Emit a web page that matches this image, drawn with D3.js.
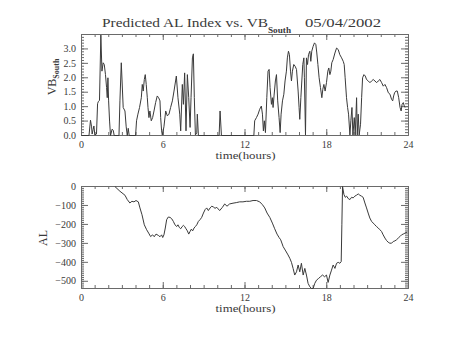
<!DOCTYPE html>
<html><head><meta charset="utf-8">
<script src="https://cdn.jsdelivr.net/npm/d3@7"></script>
<style>body{margin:0;background:#fff}svg{display:block}</style>
</head><body>
<svg id="c" width="453" height="340"></svg>
<script>
// ---- data ----
const vbHours = [0,0.55,0.66,0.74,0.78,0.85,0.91,0.98,1.10,1.18,1.23,1.32,1.42,1.50,1.59,1.67,1.76,1.84,1.89,1.94,1.99,2.06,2.13,2.25,2.33,2.40,2.75,2.82,2.92,3.06,3.19,3.28,3.36,3.43,3.50,3.97,4.04,4.14,4.26,4.39,4.46,4.53,4.61,4.68,4.75,4.83,4.88,4.95,5.02,5.12,5.22,5.32,5.44,5.56,5.66,5.76,5.81,5.88,5.93,6.05,6.18,6.30,6.42,6.54,6.67,6.79,6.96,7.08,7.21,7.28,7.40,7.48,7.57,7.67,7.77,7.87,7.97,8.04,8.14,8.21,8.28,8.36,8.46,8.50,8.58,10.10,10.17,10.27,
12.65,12.71,12.84,12.96,13.08,13.20,13.28,13.35,13.42,13.50,13.60,13.69,13.77,13.84,13.94,14.01,14.06,14.13,14.23,14.31,14.40,14.50,14.58,14.65,14.75,14.85,14.94,15.04,15.11,15.19,15.26,15.34,15.41,15.48,15.58,15.68,15.78,15.90,15.97,16.02,16.10,16.17,16.24,16.32,16.36,16.44,16.51,16.59,16.66,16.76,16.83,16.90,17.00,17.10,17.20,17.27,17.35,17.44,17.54,17.64,17.71,17.79,17.88,17.98,18.08,18.15,18.23,18.30,18.37,18.47,18.60,18.72,18.84,18.96,19.09,19.21,19.28,19.35,19.45,19.53,19.60,19.70,19.77,19.85,19.92,20.02,20.09,20.19,20.24,20.31,20.38,20.48,20.56,20.63,20.73,20.83,20.92,21.05,21.17,21.29,21.41,21.54,21.66,21.78,21.90,22.03,22.15,22.27,22.39,22.52,22.64,22.76,22.84,22.91,22.98,23.08,23.18,23.28,23.38,23.46,23.53,23.62,23.69,23.74];
const vbSouth = [0,0,0.53,0.30,0.05,0.20,0.33,0.02,0.05,1.10,1.17,1.22,3.48,2.23,2.52,2.46,2.11,1.66,1.31,2.00,1.20,0.50,0,0.22,0.18,0,0,1.20,2.52,0.97,0.85,0.30,0,0.25,0,0,0.51,0.74,0.97,1.31,1.77,1.54,1.94,2.11,1.77,1.31,0.97,0.62,0.85,0.51,0.62,0.85,1.14,1.37,1.31,1.20,0.62,0.16,0.02,0.30,0.85,0.68,0.74,0.97,1.20,1.54,2.06,1.31,0.74,0.16,1.77,1.08,2.17,0.16,2.11,1.31,0.28,1.31,2.69,2.83,1.31,0.02,0.09,0.74,0,0,0.85,0,
0,0.51,0.62,0.74,0.91,1.02,0.74,0.16,0.51,0.10,1.31,2.23,2.29,1.66,1.08,1.31,0.97,1.37,1.89,2.11,1.20,0.62,0.10,0.74,1.20,1.43,1.89,2.23,2.69,2.92,2.80,2.23,1.89,2.23,2.46,2.40,2.29,1.54,0.97,0.56,1.31,1.89,2.46,2.69,2.00,0.02,2.69,2.46,2.80,2.92,2.57,2.92,3.09,3.21,3.15,2.86,2.46,2.00,1.66,1.31,1.60,1.77,1.54,1.83,2.23,2.34,2.11,2.23,2.52,2.63,2.86,3.03,2.98,2.80,2.69,2.57,2.46,2.00,1.31,0.97,0.74,0.02,0.51,0.97,0.02,0.62,0.02,1.31,0.02,0.74,0.02,0.39,1.31,2.00,2.11,2.06,1.94,1.89,1.83,1.89,1.94,1.89,1.83,1.89,1.94,1.83,1.71,1.77,1.66,1.48,1.43,1.25,1.20,1.37,1.48,1.54,1.54,1.31,0.97,0.85,1.08,1.14,1.02,0.97];

const alHours = [2.45,2.82,3.19,3.36,3.55,3.70,3.85,4.00,4.17,4.29,4.44,4.61,4.78,4.93,5.07,5.22,5.34,5.47,5.64,5.76,5.88,5.96,6.05,6.15,6.25,6.37,6.50,6.62,6.74,6.86,6.99,7.08,7.18,7.28,7.38,7.48,7.57,7.67,7.77,7.87,7.97,8.06,8.16,8.26,8.36,8.46,8.58,8.70,8.82,8.95,9.07,9.19,9.31,9.44,9.56,9.68,9.80,9.93,10.14,10.34,10.51,10.68,10.87,11.12,11.36,11.61,11.85,12.10,12.35,12.59,12.84,13.08,13.28,13.45,13.62,13.82,14.01,14.18,14.35,14.50,14.62,14.80,14.99,15.16,15.29,15.41,15.53,15.65,15.78,15.90,16.02,16.14,16.27,16.39,16.51,16.63,16.76,16.88,17.00,17.12,17.25,17.40,17.54,17.69,17.84,17.98,18.10,18.23,18.35,18.47,18.60,18.72,18.84,18.96,19.06,19.11,19.16,19.26,19.36,19.46,19.58,19.70,19.82,19.94,20.06,20.18,20.31,20.43,20.55,20.67,20.80,20.92,21.04,21.16,21.29,21.41,21.53,21.65,21.78,21.90,22.02,22.14,22.27,22.39,22.51,22.63,22.76,22.88,23.00,23.12,23.25,23.37,23.49,23.61,23.74,23.90];
const alIndex = [0,-25,-46,-69,-87,-78,-81,-74,-81,-113,-149,-202,-228,-246,-264,-255,-265,-251,-258,-265,-255,-269,-255,-219,-175,-161,-163,-170,-184,-202,-211,-202,-216,-223,-212,-205,-211,-223,-234,-251,-237,-225,-234,-219,-211,-202,-184,-175,-163,-140,-122,-113,-127,-113,-104,-108,-115,-110,-127,-110,-92,-104,-92,-88,-85,-81,-81,-78,-78,-74,-74,-81,-96,-113,-140,-163,-193,-223,-251,-269,-281,-317,-340,-361,-379,-400,-432,-467,-450,-414,-450,-405,-467,-432,-467,-511,-529,-538,-538,-511,-494,-485,-476,-467,-476,-467,-506,-467,-441,-414,-432,-405,-400,-405,-396,-202,0,-42,-57,-51,-64,-69,-57,-60,-51,-46,-39,-46,-51,-57,-87,-113,-140,-166,-184,-193,-202,-211,-219,-228,-237,-255,-272,-285,-294,-299,-299,-290,-287,-281,-272,-264,-255,-251,-246,-240];

const xTicks = [0, 6, 12, 18, 24];
const xTickLabels = ["0", "6", "12", "18", "24"];
const vbTicks = [0, 0.5, 1.0, 1.5, 2.0, 2.5, 3.0];
const alTicks = [0, -100, -200, -300, -400, -500];
const titleMain = "Predicted AL Index vs. VB";
const titleSub = "South";
const titleDate = "05/04/2002";
const xTitle = "time(hours)";

// ---- drawing ----
const svg = d3.select("#c");
const FONT = "Liberation Serif";
const AX = "#6a6a6a", LINE = "#3a3a3a", TXT = "#3a3a3a";
const x = d3.scaleLinear([0, 24], [81, 408]);

function panel(id, yDomain, yRange, yMajor, yMinorStep, yFmt, hours, vals, yLab, yLabSub, yLabX, yLabY) {
  const y = d3.scaleLinear(yDomain, yRange);
  const g = svg.append("g");
  const bottom = yRange[0], top = yRange[1];
  const style = sel => {
    sel.selectAll("path.domain").attr("stroke", AX);
    sel.selectAll("line").attr("stroke", AX);
    sel.selectAll("text").attr("fill", TXT).attr("font-family", FONT).attr("font-size", 10);
  };
  const xMinor = d3.range(0, 25, 1);
  const yMinor = d3.range(yDomain[0], yDomain[1] + 1e-9, yMinorStep).map(v => Math.round(v / yMinorStep) * yMinorStep)
      .filter(v => v >= Math.min(...yDomain) && v <= Math.max(...yDomain));

  // minor ticks
  g.append("g").attr("transform", `translate(0,${bottom})`)
    .call(d3.axisBottom(x).tickValues(xMinor).tickSize(-3).tickSizeOuter(0).tickFormat("")).call(style);
  g.append("g").attr("transform", `translate(0,${top})`)
    .call(d3.axisTop(x).tickValues(xMinor).tickSize(-3).tickSizeOuter(0).tickFormat("")).call(style);
  g.append("g").attr("transform", `translate(${x.range()[0]},0)`)
    .call(d3.axisLeft(y).tickValues(yMinor).tickSize(-3).tickSizeOuter(0).tickFormat("")).call(style);
  g.append("g").attr("transform", `translate(${x.range()[1]},0)`)
    .call(d3.axisRight(y).tickValues(yMinor).tickSize(-3).tickSizeOuter(0).tickFormat("")).call(style);
  // major ticks + labels
  g.append("g").attr("transform", `translate(0,${bottom})`)
    .call(d3.axisBottom(x).tickValues(xTicks).tickSize(-6).tickSizeOuter(0).tickPadding(6)
      .tickFormat((d, i) => xTickLabels[i])).call(style);
  g.append("g").attr("transform", `translate(0,${top})`)
    .call(d3.axisTop(x).tickValues(xTicks).tickSize(-6).tickSizeOuter(0).tickFormat("")).call(style);
  g.append("g").attr("transform", `translate(${x.range()[0]},0)`)
    .call(d3.axisLeft(y).tickValues(yMajor).tickSize(-7).tickSizeOuter(0).tickPadding(5).tickFormat(yFmt)).call(style);
  g.append("g").attr("transform", `translate(${x.range()[1]},0)`)
    .call(d3.axisRight(y).tickValues(yMajor).tickSize(-7).tickSizeOuter(0).tickFormat("")).call(style);

  // data line
  svg.append("clipPath").attr("id", id).append("rect")
    .attr("x", x.range()[0]).attr("y", top).attr("width", x.range()[1] - x.range()[0] + 1).attr("height", bottom - top + 1);
  const pts = hours.map((h, i) => [h, vals[i]]);
  g.append("path").datum(pts).attr("clip-path", `url(#${id})`)
    .attr("fill", "none").attr("stroke", LINE).attr("stroke-width", 1).attr("stroke-linejoin", "round")
    .attr("d", d3.line().x(d => x(d[0]) + 0.5).y(d => y(d[1]) + 0.5));

  // x title
  g.append("text").attr("x", (x.range()[0] + x.range()[1]) / 2 + 1).attr("y", bottom + 24)
    .attr("text-anchor", "middle").attr("font-family", FONT).attr("font-size", 11).attr("fill", TXT)
    .attr("textLength", 60).attr("lengthAdjust", "spacingAndGlyphs").text(xTitle);
  // y title
  const t = g.append("text").attr("transform", `translate(${yLabX},${yLabY}) rotate(-90)`)
    .attr("text-anchor", "middle").attr("font-family", FONT).attr("font-size", 12).attr("fill", TXT);
  t.append("tspan").text(yLab);
  if (yLabSub) t.append("tspan").attr("dy", 3).attr("font-size", 8).attr("font-weight", "bold").text(yLabSub);
}

panel("clipTop", [0, 3.5], [135, 34], vbTicks, 0.1, d3.format(".1f"), vbHours, vbSouth, "VB", "South", 56, 77);
panel("clipBot", [-538, 0], [288, 186], alTicks, 10, d => d === 0 ? "0" : "\u2212" + Math.abs(d), alHours, alIndex, "AL", null, 47, 238);

// title
svg.append("text").attr("x", 102).attr("y", 27).attr("font-family", FONT).attr("font-size", 13)
  .attr("fill", TXT).attr("textLength", 166).attr("lengthAdjust", "spacingAndGlyphs").text(titleMain);
svg.append("text").attr("x", 268).attr("y", 33).attr("font-family", FONT).attr("font-size", 8).attr("font-weight", "bold")
  .attr("fill", TXT).attr("textLength", 23).attr("lengthAdjust", "spacingAndGlyphs").text(titleSub);
svg.append("text").attr("x", 305).attr("y", 27).attr("font-family", FONT).attr("font-size", 13)
  .attr("fill", TXT).attr("textLength", 76).attr("lengthAdjust", "spacingAndGlyphs").text(titleDate);
</script>
</body></html>
